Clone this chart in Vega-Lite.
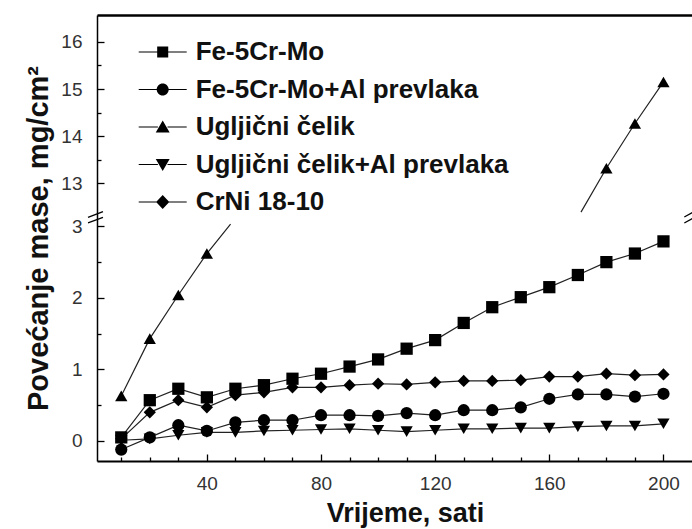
{
  "$schema": "https://vega.github.io/schema/vega-lite/v6.json",
  "width": 595,
  "height": 446,
  "autosize": "none",
  "padding": {"left": 97, "top": 15, "right": 0, "bottom": 68},
  "background": "white",
  "config": {"view": {"stroke": null}, "font": "Liberation Sans"},
  "datasets": {
    "series": [
      {"series": "Fe-5Cr-Mo", "seg": "A", "kind": "point", "x": 10, "y": 0.05},
      {"series": "Fe-5Cr-Mo", "seg": "A", "kind": "point", "x": 20, "y": 0.57},
      {"series": "Fe-5Cr-Mo", "seg": "A", "kind": "point", "x": 30, "y": 0.73},
      {"series": "Fe-5Cr-Mo", "seg": "A", "kind": "point", "x": 40, "y": 0.61},
      {"series": "Fe-5Cr-Mo", "seg": "A", "kind": "point", "x": 50, "y": 0.73},
      {"series": "Fe-5Cr-Mo", "seg": "A", "kind": "point", "x": 60, "y": 0.78},
      {"series": "Fe-5Cr-Mo", "seg": "A", "kind": "point", "x": 70, "y": 0.87},
      {"series": "Fe-5Cr-Mo", "seg": "A", "kind": "point", "x": 80, "y": 0.94},
      {"series": "Fe-5Cr-Mo", "seg": "A", "kind": "point", "x": 90, "y": 1.04},
      {"series": "Fe-5Cr-Mo", "seg": "A", "kind": "point", "x": 100, "y": 1.14},
      {"series": "Fe-5Cr-Mo", "seg": "A", "kind": "point", "x": 110, "y": 1.29},
      {"series": "Fe-5Cr-Mo", "seg": "A", "kind": "point", "x": 120, "y": 1.41},
      {"series": "Fe-5Cr-Mo", "seg": "A", "kind": "point", "x": 130, "y": 1.65},
      {"series": "Fe-5Cr-Mo", "seg": "A", "kind": "point", "x": 140, "y": 1.87},
      {"series": "Fe-5Cr-Mo", "seg": "A", "kind": "point", "x": 150, "y": 2.01},
      {"series": "Fe-5Cr-Mo", "seg": "A", "kind": "point", "x": 160, "y": 2.15},
      {"series": "Fe-5Cr-Mo", "seg": "A", "kind": "point", "x": 170, "y": 2.32},
      {"series": "Fe-5Cr-Mo", "seg": "A", "kind": "point", "x": 180, "y": 2.5},
      {"series": "Fe-5Cr-Mo", "seg": "A", "kind": "point", "x": 190, "y": 2.62},
      {"series": "Fe-5Cr-Mo", "seg": "A", "kind": "point", "x": 200, "y": 2.79},

      {"series": "Fe-5Cr-Mo+Al prevlaka", "seg": "B", "kind": "point", "x": 10, "y": -0.12},
      {"series": "Fe-5Cr-Mo+Al prevlaka", "seg": "B", "kind": "point", "x": 20, "y": 0.05},
      {"series": "Fe-5Cr-Mo+Al prevlaka", "seg": "B", "kind": "point", "x": 30, "y": 0.22},
      {"series": "Fe-5Cr-Mo+Al prevlaka", "seg": "B", "kind": "point", "x": 40, "y": 0.14},
      {"series": "Fe-5Cr-Mo+Al prevlaka", "seg": "B", "kind": "point", "x": 50, "y": 0.26},
      {"series": "Fe-5Cr-Mo+Al prevlaka", "seg": "B", "kind": "point", "x": 60, "y": 0.29},
      {"series": "Fe-5Cr-Mo+Al prevlaka", "seg": "B", "kind": "point", "x": 70, "y": 0.29},
      {"series": "Fe-5Cr-Mo+Al prevlaka", "seg": "B", "kind": "point", "x": 80, "y": 0.36},
      {"series": "Fe-5Cr-Mo+Al prevlaka", "seg": "B", "kind": "point", "x": 90, "y": 0.36},
      {"series": "Fe-5Cr-Mo+Al prevlaka", "seg": "B", "kind": "point", "x": 100, "y": 0.35},
      {"series": "Fe-5Cr-Mo+Al prevlaka", "seg": "B", "kind": "point", "x": 110, "y": 0.39},
      {"series": "Fe-5Cr-Mo+Al prevlaka", "seg": "B", "kind": "point", "x": 120, "y": 0.36},
      {"series": "Fe-5Cr-Mo+Al prevlaka", "seg": "B", "kind": "point", "x": 130, "y": 0.43},
      {"series": "Fe-5Cr-Mo+Al prevlaka", "seg": "B", "kind": "point", "x": 140, "y": 0.43},
      {"series": "Fe-5Cr-Mo+Al prevlaka", "seg": "B", "kind": "point", "x": 150, "y": 0.47},
      {"series": "Fe-5Cr-Mo+Al prevlaka", "seg": "B", "kind": "point", "x": 160, "y": 0.59},
      {"series": "Fe-5Cr-Mo+Al prevlaka", "seg": "B", "kind": "point", "x": 170, "y": 0.65},
      {"series": "Fe-5Cr-Mo+Al prevlaka", "seg": "B", "kind": "point", "x": 180, "y": 0.65},
      {"series": "Fe-5Cr-Mo+Al prevlaka", "seg": "B", "kind": "point", "x": 190, "y": 0.62},
      {"series": "Fe-5Cr-Mo+Al prevlaka", "seg": "B", "kind": "point", "x": 200, "y": 0.66},

      {"series": "Ugljični čelik", "seg": "C1", "kind": "point", "x": 10, "y": 0.63},
      {"series": "Ugljični čelik", "seg": "C1", "kind": "point", "x": 20, "y": 1.43},
      {"series": "Ugljični čelik", "seg": "C1", "kind": "point", "x": 30, "y": 2.04},
      {"series": "Ugljični čelik", "seg": "C1", "kind": "point", "x": 40, "y": 2.62},
      {"series": "Ugljični čelik", "seg": "C1", "kind": "end", "x": 48.3, "y": 3.03},
      {"series": "Ugljični čelik", "seg": "C2", "kind": "end", "x": 171.1, "y": 12.39},
      {"series": "Ugljični čelik", "seg": "C2", "kind": "point", "x": 180, "y": 13.32},
      {"series": "Ugljični čelik", "seg": "C2", "kind": "point", "x": 190, "y": 14.27},
      {"series": "Ugljični čelik", "seg": "C2", "kind": "point", "x": 200, "y": 15.15},

      {"series": "Ugljični čelik+Al prevlaka", "seg": "D", "kind": "point", "x": 10, "y": 0.01},
      {"series": "Ugljični čelik+Al prevlaka", "seg": "D", "kind": "point", "x": 20, "y": 0.03},
      {"series": "Ugljični čelik+Al prevlaka", "seg": "D", "kind": "point", "x": 30, "y": 0.08},
      {"series": "Ugljični čelik+Al prevlaka", "seg": "D", "kind": "point", "x": 40, "y": 0.12},
      {"series": "Ugljični čelik+Al prevlaka", "seg": "D", "kind": "point", "x": 50, "y": 0.12},
      {"series": "Ugljični čelik+Al prevlaka", "seg": "D", "kind": "point", "x": 60, "y": 0.14},
      {"series": "Ugljični čelik+Al prevlaka", "seg": "D", "kind": "point", "x": 70, "y": 0.15},
      {"series": "Ugljični čelik+Al prevlaka", "seg": "D", "kind": "point", "x": 80, "y": 0.16},
      {"series": "Ugljični čelik+Al prevlaka", "seg": "D", "kind": "point", "x": 90, "y": 0.17},
      {"series": "Ugljični čelik+Al prevlaka", "seg": "D", "kind": "point", "x": 100, "y": 0.15},
      {"series": "Ugljični čelik+Al prevlaka", "seg": "D", "kind": "point", "x": 110, "y": 0.13},
      {"series": "Ugljični čelik+Al prevlaka", "seg": "D", "kind": "point", "x": 120, "y": 0.15},
      {"series": "Ugljični čelik+Al prevlaka", "seg": "D", "kind": "point", "x": 130, "y": 0.17},
      {"series": "Ugljični čelik+Al prevlaka", "seg": "D", "kind": "point", "x": 140, "y": 0.17},
      {"series": "Ugljični čelik+Al prevlaka", "seg": "D", "kind": "point", "x": 150, "y": 0.18},
      {"series": "Ugljični čelik+Al prevlaka", "seg": "D", "kind": "point", "x": 160, "y": 0.18},
      {"series": "Ugljični čelik+Al prevlaka", "seg": "D", "kind": "point", "x": 170, "y": 0.2},
      {"series": "Ugljični čelik+Al prevlaka", "seg": "D", "kind": "point", "x": 180, "y": 0.21},
      {"series": "Ugljični čelik+Al prevlaka", "seg": "D", "kind": "point", "x": 190, "y": 0.21},
      {"series": "Ugljični čelik+Al prevlaka", "seg": "D", "kind": "point", "x": 200, "y": 0.24},

      {"series": "CrNi 18-10", "seg": "E", "kind": "point", "x": 10, "y": 0.03},
      {"series": "CrNi 18-10", "seg": "E", "kind": "point", "x": 20, "y": 0.4},
      {"series": "CrNi 18-10", "seg": "E", "kind": "point", "x": 30, "y": 0.57},
      {"series": "CrNi 18-10", "seg": "E", "kind": "point", "x": 40, "y": 0.47},
      {"series": "CrNi 18-10", "seg": "E", "kind": "point", "x": 50, "y": 0.64},
      {"series": "CrNi 18-10", "seg": "E", "kind": "point", "x": 60, "y": 0.68},
      {"series": "CrNi 18-10", "seg": "E", "kind": "point", "x": 70, "y": 0.75},
      {"series": "CrNi 18-10", "seg": "E", "kind": "point", "x": 80, "y": 0.75},
      {"series": "CrNi 18-10", "seg": "E", "kind": "point", "x": 90, "y": 0.78},
      {"series": "CrNi 18-10", "seg": "E", "kind": "point", "x": 100, "y": 0.8},
      {"series": "CrNi 18-10", "seg": "E", "kind": "point", "x": 110, "y": 0.79},
      {"series": "CrNi 18-10", "seg": "E", "kind": "point", "x": 120, "y": 0.82},
      {"series": "CrNi 18-10", "seg": "E", "kind": "point", "x": 130, "y": 0.84},
      {"series": "CrNi 18-10", "seg": "E", "kind": "point", "x": 140, "y": 0.84},
      {"series": "CrNi 18-10", "seg": "E", "kind": "point", "x": 150, "y": 0.85},
      {"series": "CrNi 18-10", "seg": "E", "kind": "point", "x": 160, "y": 0.9},
      {"series": "CrNi 18-10", "seg": "E", "kind": "point", "x": 170, "y": 0.9},
      {"series": "CrNi 18-10", "seg": "E", "kind": "point", "x": 180, "y": 0.94},
      {"series": "CrNi 18-10", "seg": "E", "kind": "point", "x": 190, "y": 0.92},
      {"series": "CrNi 18-10", "seg": "E", "kind": "point", "x": 200, "y": 0.93}
    ],
    "breaks": [
      {"x": -1.65, "x2": 3.6, "y": 6.48, "y2": 12.4},
      {"x": -1.65, "x2": 3.6, "y": 3.05, "y2": 6.48},
      {"x": 207.3, "x2": 210.4, "y": 7.0, "y2": 12.39},
      {"x": 207.3, "x2": 210.4, "y": 3.047, "y2": 5.23}
    ]
  },
  "layer": [
    {
      "data": {"name": "series"},
      "mark": {"type": "line", "color": "#222", "strokeWidth": 1.2},
      "encoding": {
        "x": {"field": "x", "type": "quantitative", "axis": null,
              "scale": {"domain": [1.5, 210], "nice": false, "zero": false}},
        "y": {"field": "y", "type": "quantitative", "axis": null,
              "scale": {"domain": [-0.28, 3.1, 12.35, 16.57], "range": [446, 204.2, 199, 0], "nice": false, "zero": false}},
        "detail": {"field": "seg", "type": "nominal"},
        "order": {"field": "x", "type": "quantitative"}
      }
    },
    {
      "data": {"name": "series"},
      "transform": [{"filter": "datum.kind == 'point'"}],
      "mark": {"type": "point", "filled": true, "opacity": 1, "color": "black", "size": 150},
      "encoding": {
        "x": {"field": "x", "type": "quantitative",
              "scale": {"domain": [1.5, 210], "nice": false, "zero": false},
              "axis": {
                "values": [10,20,30,40,50,60,70,80,90,100,110,120,130,140,150,160,170,180,190,200],
                "labelExpr": "datum.value % 40 == 0 ? datum.label : ''",
                "tickSize": {"condition": {"test": "datum.value % 40 != 0", "value": -4}, "value": -7},
                "tickColor": "black", "tickWidth": 1.3,
                "domainColor": "black", "domainWidth": 2,
                "labelFont": "Liberation Sans", "labelFontSize": 19, "labelColor": "#333",
                "labelPadding": 20, "labelFlush": false,
                "grid": false,
                "title": "Vrijeme, sati", "titleFont": "Liberation Sans", "titleFontSize": 27,
                "titleFontWeight": "bold", "titleColor": "#111", "titlePadding": 7,
                "titleX": 308
              }},
        "y": {"field": "y", "type": "quantitative",
              "scale": {"domain": [-0.28, 3.1, 12.35, 16.57], "range": [446, 204.2, 199, 0], "nice": false, "zero": false},
              "axis": {
                "values": [0, 0.5, 1, 1.5, 2, 2.5, 3, 13, 13.5, 14, 14.5, 15, 15.5, 16],
                "labelExpr": "datum.value % 1 == 0 ? datum.label : ''",
                "tickSize": {"condition": {"test": "datum.value % 1 != 0", "value": -4}, "value": -7},
                "tickColor": "black", "tickWidth": 1.3,
                "domainColor": "black", "domainWidth": 1.5,
                "labelFont": "Liberation Sans", "labelFontSize": 19, "labelColor": "#333",
                "labelPadding": 22, "labelFlush": false,
                "grid": false,
                "title": "Povećanje mase, mg/cm²", "titleFont": "Liberation Sans", "titleFontSize": 29,
                "titleFontWeight": "bold", "titleColor": "#111", "titlePadding": 7
              }},
        "shape": {
          "field": "series", "type": "nominal", "legend": null,
          "scale": {
            "domain": ["Fe-5Cr-Mo", "Fe-5Cr-Mo+Al prevlaka", "Ugljični čelik", "Ugljični čelik+Al prevlaka", "CrNi 18-10"],
            "range": ["square", "circle", "triangle-up", "triangle-down", "diamond"]
          }
        }
      }
    },
    {
      "data": {"name": "series"},
      "transform": [{"filter": "datum.kind == 'point'"}],
      "mark": {"type": "point", "filled": true, "color": "black", "opacity": 0},
      "encoding": {
        "x": {"field": "x", "type": "quantitative", "axis": null,
              "scale": {"domain": [1.5, 210], "nice": false, "zero": false}},
        "y": {"field": "y", "type": "quantitative", "axis": null,
              "scale": {"domain": [-0.28, 3.1, 12.35, 16.57], "range": [446, 204.2, 199, 0], "nice": false, "zero": false}},
        "shape": {
          "field": "series", "type": "nominal",
          "scale": {
            "domain": ["Fe-5Cr-Mo", "Fe-5Cr-Mo+Al prevlaka", "Ugljični čelik", "Ugljični čelik+Al prevlaka", "CrNi 18-10"],
            "range": [
              "M-2,-0.05H-0.4V0.05H-2ZM0.4,-0.05H2V0.05H0.4ZM-0.46,-0.46H0.46V0.46H-0.46Z",
              "M-2,-0.05H-0.4V0.05H-2ZM0.4,-0.05H2V0.05H0.4ZM-0.5,0A0.5,0.5,0,1,1,0.5,0A0.5,0.5,0,1,1,-0.5,0Z",
              "M-2,-0.05H-0.4V0.05H-2ZM0.4,-0.05H2V0.05H0.4ZM0,-0.55L0.58,0.45H-0.58Z",
              "M-2,-0.05H-0.4V0.05H-2ZM0.4,-0.05H2V0.05H0.4ZM0,0.55L0.58,-0.45H-0.58Z",
              "M-2,-0.05H-0.4V0.05H-2ZM0.4,-0.05H2V0.05H0.4ZM0,-0.58L0.55,0L0,0.58L-0.55,0Z"
            ]
          },
          "legend": {
            "title": null, "orient": "none", "legendX": 52.7, "legendY": 24,
            "padding": 0, "rowPadding": 11.5, "labelOffset": 20, "symbolSize": 576,
            "symbolOpacity": 1, "symbolFillColor": "black", "symbolStrokeWidth": 0,
            "labelFont": "Liberation Sans", "labelFontSize": 26, "labelFontWeight": "bold",
            "labelColor": "#111", "labelLimit": 0
          }
        }
      }
    },
    {
      "data": {"name": "breaks"},
      "mark": {"type": "rule", "color": "black", "strokeWidth": 1.3, "clip": false},
      "encoding": {
        "x": {"field": "x", "type": "quantitative",
              "scale": {"domain": [1.5, 210], "nice": false, "zero": false},
              "axis": {"orient": "top", "ticks": false, "labels": false, "domainColor": "black", "domainWidth": 2.5, "title": null, "grid": false}},
        "x2": {"field": "x2"},
        "y": {"field": "y", "type": "quantitative",
              "scale": {"domain": [-0.28, 3.1, 12.35, 16.57], "range": [446, 204.2, 199, 0], "nice": false, "zero": false},
              "axis": {"orient": "right", "ticks": false, "labels": false, "domainColor": "#777", "domainWidth": 1, "title": null, "grid": false}},
        "y2": {"field": "y2"}
      }
    }
  ],
  "resolve": {"axis": {"x": "independent", "y": "independent"}, "scale": {"shape": "independent"}}
}
